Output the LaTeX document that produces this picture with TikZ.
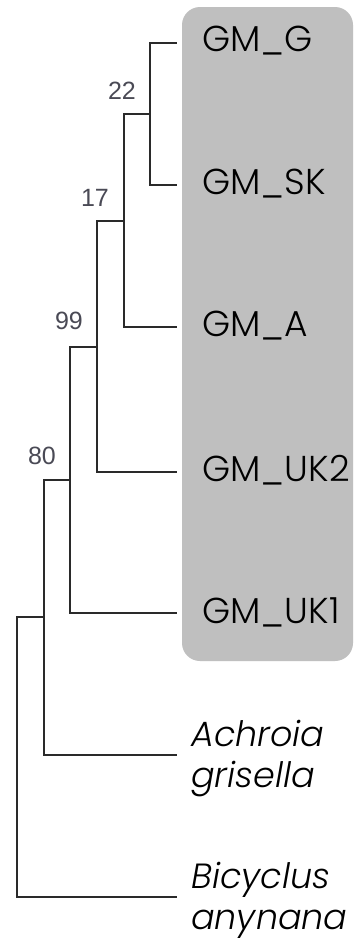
\documentclass[tikz,border=0pt]{standalone}
\usepackage{fontspec}
\setmainfont{Poppins}[UprightFont=* Light, ItalicFont=* Light Italic]
\newfontfamily\numfont{Liberation Sans}
\definecolor{boxgray}{HTML}{BFBFBF}
\definecolor{branchcol}{HTML}{2A2A2A}
\definecolor{bootcol}{HTML}{4A4A55}
\begin{document}
\begin{tikzpicture}[x=1pt,y=-1pt,
  branch/.style={draw=branchcol,line width=2pt,line cap=rect},
  leaflabel/.style={anchor=west,inner sep=0pt,font=\fontsize{36}{41}\selectfont},
  sptlabel/.style={anchor=west,inner sep=0pt,align=left,font=\fontsize{35}{41}\selectfont\itshape},
  boot/.style={inner sep=0pt,text=bootcol,font=\numfont\fontsize{25}{25}\selectfont}]
\useasboundingbox[fill=white] (0,0) rectangle (354,943);
% highlight box
\fill[boxgray,rounded corners=18pt] (182,7) rectangle (353,661);
% tips
\coordinate (tG) at (176,43);
\coordinate (tSK) at (176,185);
\coordinate (tA) at (176,327);
\coordinate (tUK2) at (176,472);
\coordinate (tUK1) at (176,613);
\coordinate (tAch) at (176,755);
\coordinate (tBic) at (176,897);
% internal nodes
\coordinate (n22) at (150,114);
\coordinate (n17) at (124,221);
\coordinate (n99) at (97,346.5);
\coordinate (n80) at (70,479.5);
\coordinate (nIn) at (44,617);
\coordinate (nRoot) at (17,757);
% branches
\draw[branch] (n22) |- (tG);
\draw[branch] (n22) |- (tSK);
\draw[branch] (n17) |- (n22);
\draw[branch] (n17) |- (tA);
\draw[branch] (n99) |- (n17);
\draw[branch] (n99) |- (tUK2);
\draw[branch] (n80) |- (n99);
\draw[branch] (n80) |- (tUK1);
\draw[branch] (nIn) |- (n80);
\draw[branch] (nIn) |- (tAch);
\draw[branch] (nRoot) |- (nIn);
\draw[branch] (nRoot) |- (tBic);
% bootstrap values
\node[boot] (b22) at (122,91) {22};
\node[boot] (b17) at (95,198) {17};
\node[boot] (b99) at (69,321) {99};
\node[boot] (b80) at (42,456) {80};
% leaf labels
\node[leaflabel] (lG) at (202,41) {GM\_G};
\node[leaflabel] (lSK) at (202,184) {GM\_SK};
\node[leaflabel] (lA) at (202,326) {GM\_A};
\node[leaflabel] (lUK2) at (202,470) {GM\_UK2};
\node[leaflabel] (lUK1) at (202,612) {GM\_UK1};
\node[sptlabel] (lAch) at (191,759) {Achroia\\grisella};
\node[sptlabel] (lBic) at (191,900) {Bicyclus\\anynana};
\end{tikzpicture}
\end{document}
